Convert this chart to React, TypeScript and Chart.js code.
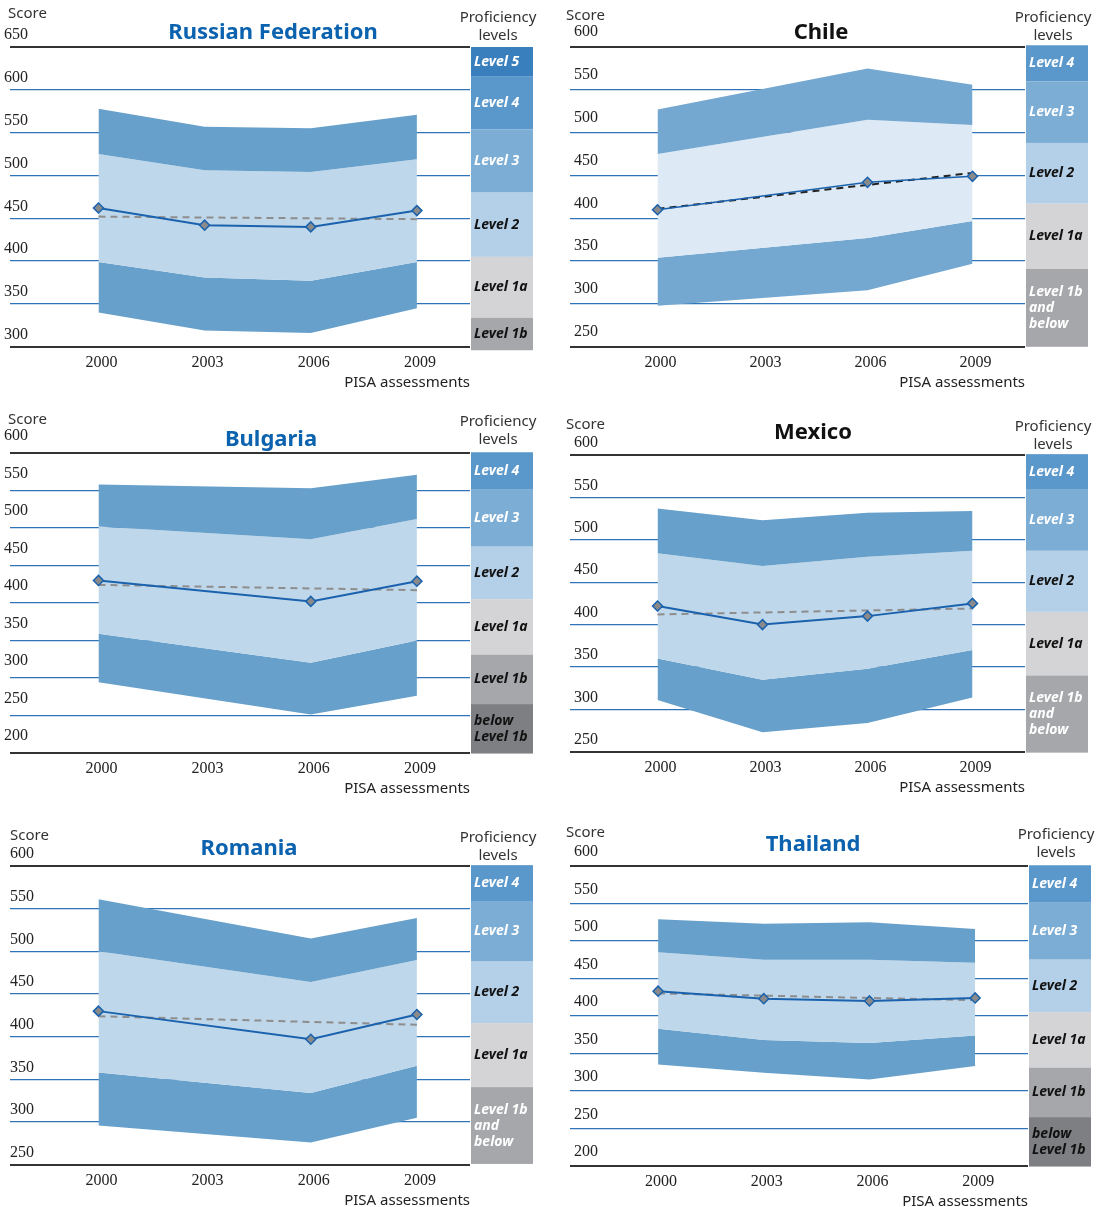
import React, { useEffect, useRef } from "react";
import { Chart, registerables } from "chart.js";
Chart.register(...registerables);

// ---------------- data ----------------
const assessmentTicks = [2000, 2003, 2006, 2009];
const trendYears = [2000, 2009];

// Russian Federation
const rusYears = [2000, 2003, 2006, 2009];
const rusP90 = [578, 557, 555, 571];
const rusP75 = [525, 506, 504, 519];
const rusP25 = [399, 381, 377, 399];
const rusP10 = [340, 319, 316, 345];
const rusMean = [462, 442, 440, 459];
const rusTrend = [452, 449];
const rusLevels = ["Level 5", "Level 4", "Level 3", "Level 2", "Level 1a", "Level 1b"];
const rusLevelBounds = [650, 616, 554, 480, 405, 334, 296];

// Chile
const chlYears = [2000, 2006, 2009];
const chlP90 = [527, 575, 556];
const chlP75 = [475, 515, 509];
const chlP25 = [354, 377, 397];
const chlP10 = [298, 316, 347];
const chlMean = [410, 442, 449];
const chlTrend = [411, 453];
const chlLevels = ["Level 4", "Level 3", "Level 2", "Level 1a", "Level 1b\nand\nbelow"];
const chlLevelBounds = [602, 560, 488, 417, 341, 250];

// Bulgaria
const bgrYears = [2000, 2006, 2009];
const bgrP90 = [558, 553, 571];
const bgrP75 = [502, 485, 512];
const bgrP25 = [359, 320, 350];
const bgrP10 = [294, 251, 276];
const bgrMean = [430, 402, 429];
const bgrTrend = [424, 417];
const bgrLevels = ["Level 4", "Level 3", "Level 2", "Level 1a", "Level 1b", "below\nLevel 1b"];
const bgrLevelBounds = [601, 551, 475, 405, 331, 265, 199];

// Mexico
const mexYears = [2000, 2003, 2006, 2009];
const mexP90 = [537, 523, 532, 534];
const mexP75 = [484, 469, 480, 487];
const mexP25 = [360, 335, 348, 370];
const mexP10 = [311, 273, 284, 314];
const mexMean = [422, 400, 410, 425];
const mexTrend = [412, 419];
const mexLevels = ["Level 4", "Level 3", "Level 2", "Level 1a", "Level 1b\nand\nbelow"];
const mexLevelBounds = [601, 559, 487, 415, 340, 249];

// Romania
const romYears = [2000, 2006, 2009];
const romP90 = [561, 515, 539];
const romP75 = [500, 464, 490];
const romP25 = [358, 334, 366];
const romP10 = [296, 276, 305];
const romMean = [430, 397, 426];
const romTrend = [424, 414];
const romLevels = ["Level 4", "Level 3", "Level 2", "Level 1a", "Level 1b\nand\nbelow"];
const romLevelBounds = [601, 559, 488, 416, 341, 251];

// Thailand
const thaYears = [2000, 2003, 2006, 2009];
const thaP90 = [529, 523, 525, 516];
const thaP75 = [485, 475, 475, 471];
const thaP25 = [383, 368, 364, 374];
const thaP10 = [335, 324, 315, 333];
const thaMean = [433, 423, 420, 424];
const thaTrend = [430, 421];
const thaLevels = ["Level 4", "Level 3", "Level 2", "Level 1a", "Level 1b", "below\nLevel 1b"];
const thaLevelBounds = [601, 551, 475, 405, 331, 265, 199];

// ---------------- styles ----------------
const BLUE_TITLE = "#0b62ae";
const BLACK_TITLE = "#111111";
const DARK_BAND = "#67a0cb";
const LIGHT_BAND = "#bfd7ea";
const CHL_DARK_BAND = "#74a8d0";
const CHL_LIGHT_BAND = "#dde9f4";
const GRID_BLUE = "#2f74b8";
const EDGE = "#333333";
const MEAN_LINE = "#1a62ad";
const MARKER_FILL = "#8a8a8a";
const TREND_GRAY = "#8d8d8d";
const TREND_BLACK = "#222222";

const LEVEL_STYLE: Record<string, { bg: string; fg: string }> = {
  "Level 5": { bg: "#3a7fbd", fg: "#ffffff" },
  "Level 4": { bg: "#5a97ca", fg: "#ffffff" },
  "Level 3": { bg: "#7badd5", fg: "#ffffff" },
  "Level 2": { bg: "#b4d0e8", fg: "#111111" },
  "Level 1a": { bg: "#d4d4d6", fg: "#111111" },
  "Level 1b": { bg: "#a6a7aa", fg: "#111111" },
  "Level 1b\nand\nbelow": { bg: "#a6a7aa", fg: "#ffffff" },
  "below\nLevel 1b": { bg: "#7e7f82", fg: "#111111" },
};

const SANS = '"Noto Sans", "Open Sans", sans-serif';
const SERIF = '"Liberation Serif", "DejaVu Serif", serif';

const PANELS = [
  {
    key: "rus", title: "Russian Federation", titleColor: BLUE_TITLE,
    left: 0, top: 0, w: 550, padTop: 47, plotH: 300, padRight: 80,
    yMin: 300, yMax: 650, labelOffset: -12, tickPad: -2,
    titleX: 273, titleY: 33, scoreX: 8, scoreY: 14, profX: 498, profY: 18,
    dark: DARK_BAND, light: LIGHT_BAND, trendColor: TREND_GRAY, meanWidth: 2,
    years: rusYears, p90: rusP90, p75: rusP75, p25: rusP25, p10: rusP10, mean: rusMean, trend: rusTrend,
    levels: rusLevels, bounds: rusLevelBounds,
  },
  {
    key: "chl", title: "Chile", titleColor: BLACK_TITLE,
    left: 552, top: 0, w: 551, padTop: 47, plotH: 300, padRight: 78,
    yMin: 250, yMax: 600, labelOffset: -15, tickPad: 4,
    titleX: 269, titleY: 33, scoreX: 14, scoreY: 16, profX: 501, profY: 18,
    dark: CHL_DARK_BAND, light: CHL_LIGHT_BAND, trendColor: TREND_BLACK, meanWidth: 1.5,
    years: chlYears, p90: chlP90, p75: chlP75, p25: chlP25, p10: chlP10, mean: chlMean, trend: chlTrend,
    levels: chlLevels, bounds: chlLevelBounds,
  },
  {
    key: "bgr", title: "Bulgaria", titleColor: BLUE_TITLE,
    left: 0, top: 405, w: 550, padTop: 48, plotH: 300, padRight: 80,
    yMin: 200, yMax: 600, labelOffset: -17, tickPad: -2,
    titleX: 271, titleY: 35, scoreX: 8, scoreY: 15, profX: 498, profY: 17,
    dark: DARK_BAND, light: LIGHT_BAND, trendColor: TREND_GRAY, meanWidth: 2,
    years: bgrYears, p90: bgrP90, p75: bgrP75, p25: bgrP25, p10: bgrP10, mean: bgrMean, trend: bgrTrend,
    levels: bgrLevels, bounds: bgrLevelBounds,
  },
  {
    key: "mex", title: "Mexico", titleColor: BLACK_TITLE,
    left: 552, top: 405, w: 551, padTop: 50, plotH: 297, padRight: 78,
    yMin: 250, yMax: 600, labelOffset: -12, tickPad: 4,
    titleX: 261, titleY: 28, scoreX: 14, scoreY: 20, profX: 501, profY: 22,
    dark: DARK_BAND, light: LIGHT_BAND, trendColor: TREND_GRAY, meanWidth: 2,
    years: mexYears, p90: mexP90, p75: mexP75, p25: mexP25, p10: mexP10, mean: mexMean, trend: mexTrend,
    levels: mexLevels, bounds: mexLevelBounds,
  },
  {
    key: "rom", title: "Romania", titleColor: BLUE_TITLE,
    left: 0, top: 818, w: 550, padTop: 48, plotH: 299, padRight: 80,
    yMin: 250, yMax: 600, labelOffset: -12, tickPad: 0,
    titleX: 249, titleY: 31, scoreX: 10, scoreY: 18, profX: 498, profY: 20,
    dark: DARK_BAND, light: LIGHT_BAND, trendColor: TREND_GRAY, meanWidth: 2,
    years: romYears, p90: romP90, p75: romP75, p25: romP25, p10: romP10, mean: romMean, trend: romTrend,
    levels: romLevels, bounds: romLevelBounds,
  },
  {
    key: "tha", title: "Thailand", titleColor: BLUE_TITLE,
    left: 552, top: 818, w: 551, padTop: 48, plotH: 300, padRight: 75,
    yMin: 200, yMax: 600, labelOffset: -14, tickPad: 4,
    titleX: 261, titleY: 27, scoreX: 14, scoreY: 15, profX: 504, profY: 17,
    dark: DARK_BAND, light: LIGHT_BAND, trendColor: TREND_GRAY, meanWidth: 2,
    years: thaYears, p90: thaP90, p75: thaP75, p25: thaP25, p10: thaP10, mean: thaMean, trend: thaTrend,
    levels: thaLevels, bounds: thaLevelBounds,
  },
];

type PanelCfg = (typeof PANELS)[number];

const pts = (xs: number[], ys: number[]) => xs.map((x, i) => ({ x, y: ys[i] }));

function makeDecor(cfg: PanelCfg) {
  return {
    id: "decor_" + cfg.key,
    afterDraw(chart: any) {
      const { ctx, chartArea, scales } = chart;
      const y = scales.y;
      ctx.save();
      ctx.textBaseline = "middle";
      ctx.fillStyle = "#333333";
      ctx.font = "15px " + SANS;
      ctx.textAlign = "left";
      ctx.fillText("Score", cfg.scoreX, cfg.scoreY);
      ctx.textAlign = "center";
      ctx.fillText("Proficiency", cfg.profX, cfg.profY);
      ctx.fillText("levels", cfg.profX, cfg.profY + 18);
      ctx.fillStyle = cfg.titleColor;
      ctx.font = "bold 22px " + SANS;
      ctx.fillText(cfg.title, cfg.titleX, cfg.titleY);
      const bx = chartArea.right + 1;
      const bw = 62;
      for (let i = 0; i < cfg.levels.length; i++) {
        const name = cfg.levels[i];
        const st = LEVEL_STYLE[name];
        const y0 = y.getPixelForValue(cfg.bounds[i]);
        const y1 = y.getPixelForValue(cfg.bounds[i + 1]);
        ctx.fillStyle = st.bg;
        ctx.fillRect(bx, y0, bw, y1 - y0);
        const lines = name.split("\n");
        const lh = 16;
        const cy = (y0 + y1) / 2 - ((lines.length - 1) * lh) / 2;
        ctx.fillStyle = st.fg;
        ctx.font = "italic bold 14px " + SANS;
        ctx.textAlign = "left";
        lines.forEach((ln, k) => ctx.fillText(ln, bx + 3, cy + k * lh));
      }
      ctx.restore();
    },
  };
}

function Panel({ cfg }: { cfg: PanelCfg }) {
  const ref = useRef<HTMLCanvasElement>(null);
  const h = cfg.padTop + cfg.plotH + 49;
  useEffect(() => {
    const chart = new Chart(ref.current as HTMLCanvasElement, {
      type: "line",
      data: {
        datasets: [
          {
            label: "Mean",
            data: pts(cfg.years, cfg.mean),
            borderColor: MEAN_LINE,
            borderWidth: cfg.meanWidth,
            pointStyle: "rectRot",
            pointRadius: 5,
            pointBackgroundColor: MARKER_FILL,
            pointBorderColor: MEAN_LINE,
            pointBorderWidth: 1.5,
            fill: false,
            tension: 0,
          },
          {
            label: "Trend",
            data: pts(trendYears, cfg.trend),
            borderColor: cfg.trendColor,
            borderWidth: 2,
            borderDash: [7, 5],
            pointRadius: 0,
            fill: false,
          },
          {
            label: "P90",
            data: pts(cfg.years, cfg.p90),
            borderColor: "rgba(0,0,0,0)",
            borderWidth: 0,
            pointRadius: 0,
            backgroundColor: cfg.dark,
            fill: "+1",
          },
          {
            label: "P75",
            data: pts(cfg.years, cfg.p75),
            borderColor: "rgba(0,0,0,0)",
            borderWidth: 0,
            pointRadius: 0,
            backgroundColor: cfg.light,
            fill: "+1",
          },
          {
            label: "P25",
            data: pts(cfg.years, cfg.p25),
            borderColor: "rgba(0,0,0,0)",
            borderWidth: 0,
            pointRadius: 0,
            backgroundColor: cfg.dark,
            fill: "+1",
          },
          {
            label: "P10",
            data: pts(cfg.years, cfg.p10),
            borderColor: "rgba(0,0,0,0)",
            borderWidth: 0,
            pointRadius: 0,
            fill: false,
          },
        ],
      },
      options: {
        responsive: false,
        animation: false,
        devicePixelRatio: 1,
        layout: { padding: { top: cfg.padTop, left: 10, right: cfg.padRight, bottom: 4 } },
        plugins: { legend: { display: false }, tooltip: { enabled: false } },
        scales: {
          x: {
            type: "linear",
            min: 1997.5,
            max: 2010.5,
            afterBuildTicks: (s: any) => {
              s.ticks = assessmentTicks.map((v) => ({ value: v }));
            },
            grid: { display: false, drawTicks: false },
            border: { display: false },
            ticks: {
              font: { family: SERIF, size: 16 },
              color: "#222222",
              padding: 6,
              labelOffset: 3,
              maxRotation: 0,
              autoSkip: false,
              callback: (v: any) => String(v),
            },
            title: {
              display: true,
              text: "PISA assessments",
              align: "end",
              font: { family: SANS, size: 15 },
              color: "#222222",
              padding: { top: -4, bottom: 0 },
            },
          },
          y: {
            min: cfg.yMin,
            max: cfg.yMax,
            z: 1,
            grid: {
              drawTicks: false,
              color: (c: any) =>
                c.tick && (c.tick.value === cfg.yMin || c.tick.value === cfg.yMax) ? EDGE : GRID_BLUE,
              lineWidth: (c: any) =>
                c.tick && (c.tick.value === cfg.yMin || c.tick.value === cfg.yMax) ? 2 : 1.3,
            },
            border: { display: false },
            ticks: {
              stepSize: 50,
              mirror: true,
              padding: cfg.tickPad,
              labelOffset: cfg.labelOffset,
              font: { family: SERIF, size: 16 },
              color: "#222222",
              autoSkip: false,
              callback: (v: any) => String(v),
            },
          },
        },
      } as any,
      plugins: [makeDecor(cfg)],
    });
    return () => chart.destroy();
  }, []);
  return (
    <canvas
      ref={ref}
      width={cfg.w}
      height={h}
      style={{ position: "absolute", left: cfg.left, top: cfg.top, width: cfg.w, height: h }}
    />
  );
}

export default function App() {
  return (
    <div
      style={{
        position: "fixed",
        left: 0,
        top: 0,
        width: 1103,
        height: 1207,
        overflow: "hidden",
        background: "#ffffff",
      }}
    >
      {PANELS.map((p) => (
        <Panel key={p.key} cfg={p} />
      ))}
    </div>
  );
}
